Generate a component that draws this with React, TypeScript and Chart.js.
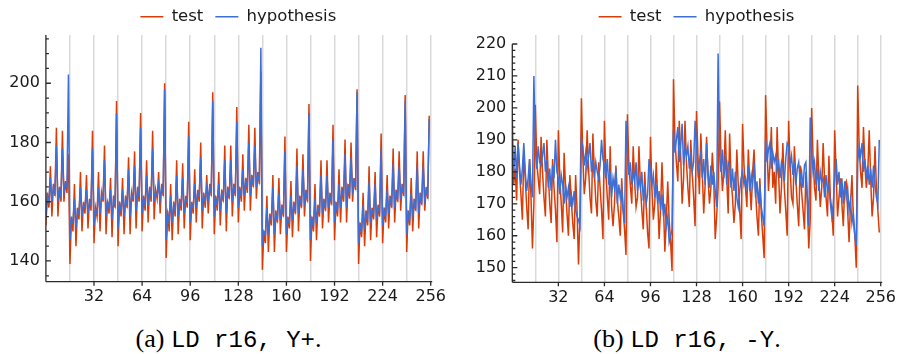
import React, { useEffect, useRef } from "react";
import { Chart, registerables } from "chart.js";

Chart.register(...registerables);

// ---------- data ----------
const SERIES_NAMES = ["test", "hypothesis"];
const X_GRID = [16, 32, 48, 64, 80, 96, 112, 128, 144, 160, 176, 192, 208, 224, 240, 256];
const X_LABELLED = [32, 64, 96, 128, 160, 192, 224, 256];
const Y_TICKS_A = [140, 160, 180, 200];
const Y_TICKS_B = [150, 160, 170, 180, 190, 200, 210, 220];
const CAPTION_A = ["(a)", "LD r16, Y+", "."];
const CAPTION_B = ["(b)", "LD r16, -Y", "."];

const testA = [
  152, 163, 158, 172, 155, 166, 162, 185, 155, 165, 160, 184, 160, 167, 163, 176,
  139, 155, 150, 166, 145, 158, 154, 170, 150, 160, 156, 169, 151, 161, 157, 184,
  146, 158, 155, 170, 150, 163, 160, 179, 149, 160, 156, 168, 148, 162, 158, 194,
  145, 160, 155, 168, 149, 162, 158, 175, 149, 163, 160, 177, 151, 165, 160, 190,
  150, 162, 157, 174, 153, 165, 160, 184, 154, 164, 161, 170, 156, 166, 162, 200,
  141, 157, 150, 166, 147, 160, 155, 174, 149, 161, 157, 173, 151, 162, 158, 187,
  147, 160, 156, 171, 153, 164, 160, 180, 151, 163, 158, 169, 156, 166, 162, 197,
  149, 162, 157, 170, 152, 164, 160, 179, 150, 165, 161, 179, 155, 166, 162, 192,
  153, 165, 160, 176, 157, 168, 163, 186, 157, 169, 165, 185, 161, 170, 166, 204,
  137, 150, 146, 162, 143, 156, 152, 169, 143, 157, 153, 168, 149, 159, 155, 182,
  143, 155, 151, 167, 148, 160, 156, 178, 150, 162, 158, 176, 155, 164, 160, 193,
  140, 155, 150, 166, 147, 159, 155, 174, 151, 161, 157, 174, 153, 163, 159, 186,
  147, 160, 155, 171, 153, 165, 160, 181, 153, 166, 161, 180, 160, 168, 164, 198,
  139, 153, 148, 163, 145, 157, 152, 172, 147, 158, 154, 170, 148, 159, 155, 183,
  146, 158, 153, 169, 151, 162, 158, 178, 153, 164, 160, 177, 157, 166, 162, 196,
  143, 157, 152, 168, 150, 161, 157, 177, 151, 163, 159, 177, 157, 165, 161, 189,
];

const hypA = [
  155, 162, 160, 168, 160, 165, 163, 179, 160, 164, 162, 178, 163, 166, 165, 203,
  147, 154, 153, 161, 151, 157, 156, 165, 155, 159, 158, 164, 156, 160, 159, 178,
  152, 157, 156, 165, 156, 162, 161, 174, 155, 160, 158, 164, 154, 161, 159, 190,
  151, 159, 157, 164, 155, 161, 159, 171, 155, 162, 161, 172, 157, 164, 162, 185,
  156, 161, 159, 169, 159, 164, 162, 178, 160, 163, 162, 166, 161, 165, 163, 198,
  147, 156, 153, 162, 153, 159, 157, 169, 155, 160, 159, 168, 156, 161, 160, 182,
  153, 159, 158, 166, 158, 163, 162, 175, 157, 162, 160, 165, 161, 165, 163, 194,
  155, 161, 159, 166, 157, 163, 161, 174, 156, 164, 162, 174, 160, 165, 163, 187,
  158, 164, 162, 171, 162, 167, 165, 180, 162, 168, 166, 179, 165, 169, 167, 212,
  145, 150, 149, 158, 149, 155, 154, 165, 149, 156, 154, 163, 154, 158, 156, 177,
  149, 154, 153, 162, 154, 159, 157, 172, 156, 161, 159, 171, 160, 163, 161, 190,
  147, 154, 152, 161, 153, 158, 157, 169, 156, 160, 158, 169, 158, 162, 160, 181,
  153, 159, 157, 166, 158, 164, 162, 176, 158, 165, 163, 175, 164, 167, 165, 197,
  146, 152, 150, 159, 151, 156, 154, 167, 153, 157, 156, 166, 154, 158, 157, 178,
  152, 157, 155, 164, 156, 161, 159, 173, 158, 163, 161, 172, 161, 165, 163, 194,
  149, 156, 154, 163, 155, 160, 158, 172, 156, 162, 160, 172, 161, 164, 162, 188,
];

const testB = [
  197, 176, 181, 171, 190, 180, 173, 165, 186, 178, 169, 162, 184, 172, 156, 170,
  201, 183, 178, 173, 191, 180, 172, 166, 190, 179, 170, 164, 184, 175, 168, 158,
  193, 178, 170, 161, 186, 175, 167, 160, 179, 171, 164, 159, 179, 168, 151, 166,
  203, 185, 173, 178, 193, 181, 172, 167, 192, 180, 171, 166, 183, 175, 168, 159,
  196, 180, 172, 165, 188, 169, 163, 170, 182, 171, 166, 160, 178, 168, 162, 154,
  198, 182, 176, 170, 188, 177, 169, 172, 188, 176, 168, 162, 180, 170, 161, 156,
  191, 175, 165, 170, 183, 172, 159, 168, 183, 170, 155, 165, 177, 165, 158, 149,
  209, 190, 183, 177, 196, 185, 170, 178, 196, 183, 175, 169, 190, 180, 172, 163,
  199, 185, 173, 192, 180, 167, 176, 191, 178, 170, 175, 186, 177, 159, 166, 175,
  202, 185, 174, 180, 193, 178, 167, 192, 178, 172, 164, 170, 187, 176, 168, 159,
  195, 182, 175, 169, 187, 176, 168, 180, 187, 174, 166, 160, 178, 167, 160, 153,
  204, 188, 174, 182, 194, 175, 180, 170, 194, 180, 167, 175, 189, 175, 168, 160,
  196, 182, 172, 170, 188, 178, 170, 163, 182, 174, 168, 162, 180, 170, 156, 165,
  200, 184, 175, 171, 190, 178, 169, 175, 189, 177, 172, 166, 185, 172, 168, 160,
  193, 180, 166, 172, 178, 170, 163, 176, 177, 168, 158, 170, 179, 165, 160, 150,
  207, 188, 180, 175, 194, 182, 175, 180, 193, 178, 166, 172, 188, 175, 168, 161,
];

const hypB = [
  187, 180, 188, 178, 189, 182, 176, 181, 189, 180, 174, 178, 184, 176, 172, 210,
  187, 181, 188, 183, 182, 185, 189, 180, 184, 175, 181, 174, 182, 178, 190, 180,
  178, 173, 179, 176, 170, 176, 172, 175, 169, 173, 170, 174, 168, 166, 165, 163,
  190, 188, 182, 186, 181, 185, 189, 180, 184, 178, 183, 180, 178, 182, 190, 184,
  182, 178, 184, 176, 180, 172, 178, 175, 181, 170, 176, 172, 175, 168, 164, 196,
  185, 179, 183, 176, 180, 177, 183, 174, 178, 175, 180, 171, 176, 170, 173, 184,
  180, 176, 179, 172, 176, 170, 174, 168, 173, 166, 170, 163, 166, 158, 160, 162,
  193, 186, 190, 194, 183, 188, 195, 182, 188, 185, 188, 181, 186, 180, 183, 196,
  188, 180, 183, 186, 178, 184, 176, 189, 180, 175, 182, 176, 180, 174, 169, 217,
  186, 180, 187, 178, 185, 176, 183, 182, 175, 181, 174, 180, 172, 169, 174, 178,
  180, 176, 178, 175, 182, 174, 179, 176, 183, 172, 177, 170, 176, 169, 166, 163,
  190, 183, 187, 189, 181, 186, 183, 185, 180, 184, 178, 183, 181, 177, 184, 189,
  188, 182, 185, 179, 183, 176, 181, 183, 177, 180, 175, 182, 183, 172, 163, 197,
  186, 180, 183, 176, 181, 174, 180, 177, 178, 172, 179, 174, 176, 170, 166, 170,
  178, 184, 176, 180, 172, 178, 170, 177, 172, 175, 168, 171, 164, 167, 160, 157,
  183, 188, 185, 189, 180, 184, 178, 182, 176, 181, 175, 182, 176, 172, 170, 190,
];

// ---------- styling ----------
const RED = "#d83d08";
const BLUE = "#3d6fd6";
const TEXT = "#1a1a1a";
const AXIS = "#2a2a2a";
const GRID = "#d9d9d9";
const SANS = "'DejaVu Sans', sans-serif";

type PanelCfg = {
  test: number[];
  hyp: number[];
  yMin: number;
  yMax: number;
  axisTop: number;
  yTicks: number[];
  minorStep: number;
  left: number;
  width: number;
  height: number;
  padL: number;
  padR: number;
  yAxisW: number;
  xAxisH: number;
};

const axisDecor = {
  id: "axisDecor",
  afterDraw(chart: any, _args: any, opts: any) {
    const { ctx, chartArea } = chart;
    const x = chart.scales.x;
    const y = chart.scales.y;
    ctx.save();
    ctx.strokeStyle = AXIS;
    ctx.lineWidth = 1.3;
    ctx.beginPath();
    const yTop = y.getPixelForValue(opts.axisTop);
    ctx.moveTo(chartArea.left, yTop);
    ctx.lineTo(chartArea.left, chartArea.bottom);
    ctx.moveTo(chartArea.left, chartArea.bottom);
    ctx.lineTo(chartArea.right + 1.5, chartArea.bottom);
    const k0 = Math.ceil(y.min / opts.minorStep - 1e-9);
    for (let k = k0; k * opts.minorStep <= opts.axisTop + 1e-9; k++) {
      const v = k * opts.minorStep;
      const major = opts.yTicks.some((t: number) => Math.abs(t - v) < 1e-6);
      const py = y.getPixelForValue(v);
      ctx.moveTo(chartArea.left, py);
      ctx.lineTo(chartArea.left + (major ? 5 : 3), py);
    }
    for (const v of opts.xLabelled) {
      const px = x.getPixelForValue(v);
      ctx.moveTo(px, chartArea.bottom);
      ctx.lineTo(px, chartArea.bottom + 4);
    }
    ctx.stroke();
    ctx.restore();
  },
};

function Panel({ cfg }: { cfg: PanelCfg }) {
  const ref = useRef<HTMLCanvasElement>(null);
  useEffect(() => {
    const idx = cfg.test.map((_, i) => i);
    const chart = new Chart(ref.current as HTMLCanvasElement, {
      type: "line",
      data: {
        datasets: [
          {
            label: SERIES_NAMES[0],
            data: cfg.test.map((v, i) => ({ x: idx[i], y: v })),
            borderColor: RED,
            backgroundColor: RED,
            borderWidth: 1.5,
            pointRadius: 0,
            tension: 0,
            order: 1,
          },
          {
            label: SERIES_NAMES[1],
            data: cfg.hyp.map((v, i) => ({ x: idx[i], y: v })),
            borderColor: BLUE,
            backgroundColor: BLUE,
            borderWidth: 1.5,
            pointRadius: 0,
            tension: 0,
            order: 0,
          },
        ],
      },
      options: {
        animation: false,
        responsive: false,
        events: [],
        layout: { padding: { left: cfg.padL, right: cfg.padR, top: -3.5, bottom: 0 } },
        plugins: {
          legend: {
            display: true,
            position: "top",
            fullSize: false,
            labels: {
              boxWidth: 23,
              boxHeight: 1.6,
              padding: 12,
              color: TEXT,
              font: { family: SANS, size: 16.5 },
              sort: (a: any, b: any) => a.datasetIndex - b.datasetIndex,
              generateLabels: (c: any) =>
                Chart.defaults.plugins.legend.labels
                  .generateLabels(c)
                  .map((it: any) => ({ ...it, lineWidth: 0, fillStyle: it.strokeStyle })),
            },
          },
          tooltip: { enabled: false },
          axisDecor: {
            axisTop: cfg.axisTop,
            minorStep: cfg.minorStep,
            yTicks: cfg.yTicks,
            xLabelled: X_LABELLED,
          },
        } as any,
        scales: {
          x: {
            type: "linear",
            min: 0,
            max: 256,
            afterBuildTicks: (s: any) => {
              s.ticks = X_GRID.map((v) => ({ value: v }));
            },
            afterFit: (s: any) => {
              s.height = cfg.xAxisH;
            },
            ticks: {
              autoSkip: false,
              maxRotation: 0,
              padding: 6,
              color: TEXT,
              font: { family: SANS, size: 16 },
              callback: (v: any) => (X_LABELLED.includes(Number(v)) ? String(v) : ""),
            },
            grid: { color: GRID, lineWidth: 1.5, drawTicks: false },
            border: { display: false },
          },
          y: {
            type: "linear",
            min: cfg.yMin,
            max: cfg.yMax,
            afterBuildTicks: (s: any) => {
              s.ticks = cfg.yTicks.map((v) => ({ value: v }));
            },
            afterFit: (s: any) => {
              s.width = cfg.yAxisW;
            },
            ticks: {
              padding: 6,
              color: TEXT,
              font: { family: SANS, size: 16 },
              callback: (v: any) => String(v),
            },
            grid: { display: false, drawTicks: false },
            border: { display: false },
          },
        },
      },
      plugins: [axisDecor],
    });
    return () => chart.destroy();
  }, [cfg]);
  return (
    <div style={{ position: "absolute", left: cfg.left, top: 0, width: cfg.width, height: cfg.height }}>
      <canvas ref={ref} width={cfg.width} height={cfg.height} style={{ width: cfg.width, height: cfg.height, display: "block" }} />
    </div>
  );
}

const PANEL_A: PanelCfg = {
  test: testA,
  hyp: hypA,
  yMin: 133.0,
  yMax: 216.3,
  axisTop: 216.3,
  yTicks: Y_TICKS_A,
  minorStep: 5,
  left: 0,
  width: 452,
  height: 310,
  padL: 10,
  padR: 20.3,
  yAxisW: 35.9,
  xAxisH: 28.3,
};

const PANEL_B: PanelCfg = {
  test: testB,
  hyp: hypB,
  yMin: 145.43,
  yMax: 222.82,
  axisTop: 220,
  yTicks: Y_TICKS_B,
  minorStep: 2,
  left: 458,
  width: 444,
  height: 310,
  padL: 10,
  padR: 16,
  yAxisW: 44.3,
  xAxisH: 27.7,
};

function Caption({ parts, left, width }: { parts: string[]; left: number; width: number }) {
  return (
    <div
      style={{
        position: "absolute",
        left,
        top: 325,
        width,
        textAlign: "center",
        color: "#000",
        fontSize: 26,
        lineHeight: "28px",
        whiteSpace: "pre",
      }}
    >
      <span style={{ fontFamily: "'Liberation Serif', serif" }}>{parts[0]} </span>
      <span style={{ fontFamily: "'Liberation Mono', monospace", fontSize: 24 }}>{parts[1]}</span>
      <span style={{ fontFamily: "'Liberation Serif', serif" }}>{parts[2]}</span>
    </div>
  );
}

export default function App() {
  return (
    <div
      style={{
        position: "absolute",
        left: 0,
        top: 0,
        width: 902,
        height: 354,
        overflow: "hidden",
        background: "#fff",
      }}
    >
      <Panel cfg={PANEL_A} />
      <Panel cfg={PANEL_B} />
      <Caption parts={CAPTION_A} left={0} width={457} />
      <Caption parts={CAPTION_B} left={472} width={430} />
    </div>
  );
}
